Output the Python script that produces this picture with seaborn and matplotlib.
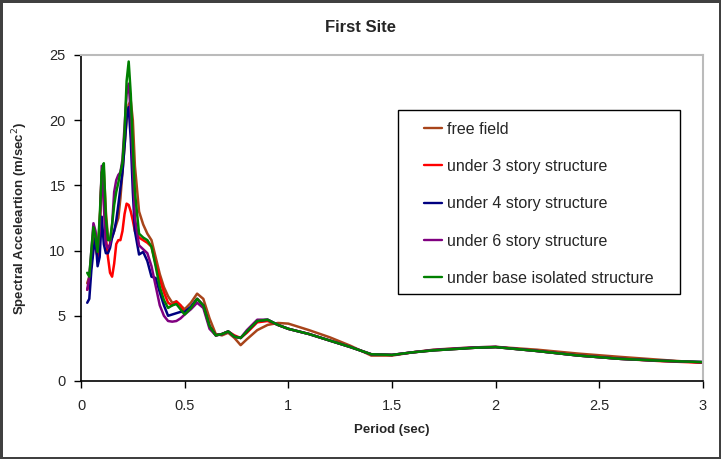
import numpy as np
import pandas as pd
import seaborn as sns
import matplotlib.pyplot as plt
from matplotlib.patches import Rectangle

# period grid (sec)
period = [0.03, 0.04, 0.05, 0.06, 0.07, 0.08, 0.09, 0.10, 0.11, 0.12, 0.13, 0.14, 0.15, 0.16,
          0.17, 0.18, 0.19, 0.20, 0.21, 0.22, 0.23, 0.24, 0.25, 0.26, 0.28, 0.30, 0.32, 0.34,
          0.36, 0.38, 0.40, 0.42, 0.44, 0.46, 0.48, 0.50, 0.53, 0.56, 0.59, 0.62, 0.65, 0.68,
          0.71, 0.74, 0.77, 0.80, 0.85, 0.90, 0.95, 1.0, 1.1, 1.2, 1.3, 1.4, 1.5, 1.6, 1.7,
          1.8, 1.9, 2.0, 2.2, 2.4, 2.6, 2.8, 3.0]

free_field = [7.5, 8.0, 9.5, 11.0, 10.5, 9.5, 12.0, 15.5, 16.2, 13.0, 11.0, 10.8, 11.0, 11.5,
              12.0, 12.5, 14.0, 16.0, 18.0, 20.0, 21.2, 21.5, 20.0, 16.5, 13.0, 12.0, 11.3, 10.8,
              9.5, 8.2, 7.2, 6.5, 6.0, 6.1, 5.8, 5.5, 6.0, 6.7, 6.3, 4.8, 3.6, 3.5,
              3.7, 3.3, 2.75, 3.2, 3.9, 4.3, 4.45, 4.4, 3.9, 3.35, 2.7, 1.95, 1.95, 2.2, 2.4,
              2.5, 2.58, 2.62, 2.4, 2.1, 1.85, 1.62, 1.4]

story3 = [7.0, 7.5, 9.0, 10.5, 10.3, 9.5, 12.0, 16.0, 14.0, 11.0, 9.5, 8.3, 8.0, 9.0,
          10.5, 10.8, 10.8, 11.5, 12.8, 13.6, 13.5, 13.0, 12.3, 11.5, 11.0, 10.8, 10.6, 10.3,
          9.0, 7.8, 6.8, 6.0, 5.8, 6.1, 5.8, 5.2, 5.6, 6.3, 5.8, 4.2, 3.5, 3.6,
          3.8, 3.5, 3.3, 3.7, 4.5, 4.6, 4.3, 4.0, 3.6, 3.1, 2.6, 2.05, 2.0, 2.2, 2.35,
          2.45, 2.55, 2.6, 2.3, 1.95, 1.7, 1.52, 1.4]

story4 = [6.0, 6.3, 8.5, 10.0, 11.0, 8.8, 9.5, 12.6, 10.5, 9.8, 9.8, 10.2, 11.0, 11.5,
          12.3, 13.5, 14.8, 16.0, 18.0, 20.2, 21.0, 18.5, 14.5, 11.5, 9.7, 9.9, 9.2, 8.0,
          7.9, 6.8, 5.8, 5.0, 5.1, 5.2, 5.3, 5.3, 5.7, 6.3, 5.8, 4.2, 3.5, 3.6,
          3.8, 3.4, 3.3, 3.8, 4.6, 4.7, 4.3, 4.0, 3.6, 3.1, 2.6, 2.05, 2.0, 2.2, 2.35,
          2.45, 2.55, 2.6, 2.3, 1.95, 1.7, 1.55, 1.45]

story6 = [7.0, 8.0, 10.0, 12.1, 11.5, 10.0, 11.5, 16.5, 13.5, 10.5, 10.2, 10.5, 12.0, 14.5,
          15.4, 15.8, 16.0, 17.0, 19.5, 22.0, 22.8, 20.5, 16.5, 12.5, 10.4, 10.1, 9.8, 8.8,
          7.3, 5.8, 5.0, 4.6, 4.55, 4.6, 4.8, 5.1, 5.5, 6.0, 5.6, 4.0, 3.5, 3.6,
          3.8, 3.4, 3.3, 3.9, 4.7, 4.7, 4.3, 4.0, 3.6, 3.1, 2.6, 2.05, 2.0, 2.2, 2.38,
          2.48, 2.58, 2.62, 2.3, 1.95, 1.7, 1.55, 1.45]

base_isolated = [8.3, 8.0, 10.0, 11.8, 11.0, 9.9, 12.5, 16.0, 16.7, 12.5, 10.8, 10.8, 12.0, 13.5,
                 14.5, 15.2, 16.0, 16.7, 19.0, 23.0, 24.5, 22.0, 18.0, 14.5, 11.3, 11.0, 10.8, 10.3,
                 8.8, 7.2, 6.2, 5.6, 5.8, 5.9, 5.5, 5.1, 5.6, 6.3, 5.8, 4.2, 3.5, 3.6,
                 3.8, 3.4, 3.3, 3.8, 4.6, 4.7, 4.3, 4.0, 3.6, 3.1, 2.6, 2.05, 2.0, 2.2, 2.35,
                 2.45, 2.55, 2.6, 2.3, 1.95, 1.7, 1.55, 1.45]

labels = ['free field', 'under 3 story structure', 'under 4 story structure',
          'under 6 story structure', 'under base isolated structure']
colors = ['#A8441A', '#FF0000', '#000080', '#800080', '#008000']

series = [free_field, story3, story4, story6, base_isolated]
df = pd.concat([pd.DataFrame({'period': period, 'sa': s, 'case': lab})
                for s, lab in zip(series, labels)], ignore_index=True)

sns.set_style("white")
plt.rcParams['font.family'] = ['Liberation Sans', 'DejaVu Sans']

fig = plt.figure(figsize=(7.21, 4.59), dpi=100, edgecolor='#404040', linewidth=2.5)
ax = fig.add_axes([81 / 721, 1 - 381 / 459, 622 / 721, 326 / 459])

sns.lineplot(data=df, x='period', y='sa', hue='case', palette=dict(zip(labels, colors)),
             estimator=None, sort=False, linewidth=1.8, ax=ax)

ax.set_xlim(0, 3)
ax.set_ylim(0, 25)
ax.set_xticks([0, 0.5, 1, 1.5, 2, 2.5, 3])
ax.set_xticklabels(['0', '0.5', '1', '1.5', '2', '2.5', '3'])
ax.set_yticks([0, 5, 10, 15, 20, 25])
ax.tick_params(axis='both', direction='out', length=5, width=1, color='black',
               labelsize=10.5, pad=6, bottom=True, left=True)
ax.tick_params(axis='x', pad=8)

for side in ['top', 'right']:
    ax.spines[side].set_color('#BBBBBB')
    ax.spines[side].set_linewidth(1.5)
for side in ['left', 'bottom']:
    ax.spines[side].set_color('black')
    ax.spines[side].set_linewidth(1.2)

ax.set_xlabel('Period (sec)', fontsize=9.5, fontweight='bold', labelpad=8)
ax.set_ylabel('Spectral Acceleartion (m/sec$^2$)', fontsize=9.5, fontweight='bold', labelpad=14)
fig.text(0.5, 1 - 27 / 459, 'First Site', fontsize=12, fontweight='bold', ha='center', va='center')

# legend box drawn separately, entries placed inside it
ax.add_patch(Rectangle((0.5096, 0.2669), 0.4534, 0.5644, transform=ax.transAxes,
                       facecolor='white', edgecolor='black', linewidth=1.0, zorder=4))
handles, _ = ax.get_legend_handles_labels()
leg = ax.legend(handles, labels, loc='upper left', bbox_to_anchor=(0.5514, 0.796), fontsize=11.5,
                frameon=False, borderpad=0, borderaxespad=0,
                labelspacing=1.40, handlelength=1.15, handletextpad=0.3)
leg.set_zorder(5)
for line in leg.get_lines():
    line.set_linewidth(1.7)

fig.savefig('out.png', dpi=100)
